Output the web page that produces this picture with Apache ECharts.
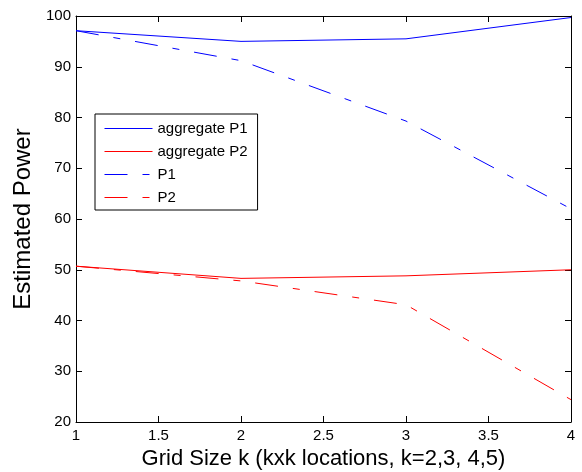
<!DOCTYPE html>
<html>
<head>
<meta charset="utf-8">
<script src="https://cdn.jsdelivr.net/npm/echarts@6/dist/echarts.min.js"></script>
<style>
  html, body { margin: 0; padding: 0; background: #fff; }
  #chart { width: 582px; height: 472px; }
</style>
</head>
<body>
<div id="chart"></div>
<script>
// Grid size k (x) against estimated power (%)
const gridSizes = [1, 2, 3, 4];
const aggregateP1 = [97.1, 95.0, 95.5, 99.7];
const aggregateP2 = [50.7, 48.3, 48.8, 50.0];
const p1 = [97.1, 91.2, 79.3, 62.0];
const p2 = [50.7, 47.8, 43.1, 24.4];

const seriesNames = ['aggregate P1', 'aggregate P2', 'P1', 'P2'];
const seriesColors = ['#0000ff', '#ff0000', '#0000ff', '#ff0000'];
const seriesDashed = [false, false, true, true];
const xTitle = 'Grid Size k (kxk locations, k=2,3, 4,5)';
const yTitle = 'Estimated Power';

const pairs = (ys) => gridSizes.map((x, i) => [x, ys[i]]);
const dashDot = [23, 15, 7, 15];

function styleOf(i) {
  return { color: seriesColors[i], width: 1, type: seriesDashed[i] ? dashDot : 'solid' };
}

function lineSeries(i, ys) {
  return {
    name: seriesNames[i],
    type: 'line',
    data: pairs(ys),
    symbol: 'none',
    showSymbol: false,
    animation: false,
    lineStyle: styleOf(i),
    itemStyle: { color: seriesColors[i] }
  };
}

const font = 'Arial, "Liberation Sans", sans-serif';
const axisLine = { show: true, lineStyle: { color: '#000', width: 1 } };
const tickIn = { show: true, inside: true, length: 6, lineStyle: { color: '#000' } };

const chart = echarts.init(document.getElementById('chart'), null, { renderer: 'canvas' });
chart.setOption({
  backgroundColor: '#fff',
  animation: false,
  grid: {
    left: 76, right: 11, top: 16, bottom: 50,
    containLabel: false,
    outerBoundsMode: 'none'
  },
  legend: {
    orient: 'vertical',
    left: 95,
    top: 114,
    padding: [7, 10, 5, 9],
    itemWidth: 48,
    itemHeight: 14,
    itemGap: 8,
    borderColor: '#000',
    borderWidth: 1,
    backgroundColor: '#fff',
    textStyle: { fontFamily: font, fontSize: 15, color: '#000' },
    data: seriesNames.map((name, i) => ({
      name: name,
      itemStyle: { opacity: 0 },
      lineStyle: styleOf(i)
    }))
  },
  xAxis: [
    {
      type: 'value', min: 1, max: 4, interval: 0.5,
      position: 'bottom',
      name: xTitle, nameLocation: 'middle', nameGap: 19,
      nameTextStyle: { fontFamily: font, fontSize: 22, color: '#000' },
      axisLine: axisLine, axisTick: tickIn,
      axisLabel: { fontFamily: font, fontSize: 15, color: '#000', margin: 6 },
      splitLine: { show: false }
    },
    {
      type: 'value', min: 1, max: 4, interval: 0.5,
      position: 'top',
      axisLine: axisLine, axisTick: tickIn,
      axisLabel: { show: false }, splitLine: { show: false }
    }
  ],
  yAxis: [
    {
      type: 'value', min: 20, max: 100, interval: 10,
      position: 'left',
      name: yTitle, nameLocation: 'middle', nameGap: 41,
      nameTextStyle: { fontFamily: font, fontSize: 24, color: '#000' },
      axisLine: axisLine, axisTick: tickIn,
      axisLabel: { fontFamily: font, fontSize: 15, color: '#000', margin: 5 },
      splitLine: { show: false }
    },
    {
      type: 'value', min: 20, max: 100, interval: 10,
      position: 'right',
      axisLine: axisLine, axisTick: tickIn,
      axisLabel: { show: false }, splitLine: { show: false }
    }
  ],
  series: [
    lineSeries(0, aggregateP1),
    lineSeries(1, aggregateP2),
    lineSeries(2, p1),
    lineSeries(3, p2)
  ]
});
</script>
</body>
</html>
